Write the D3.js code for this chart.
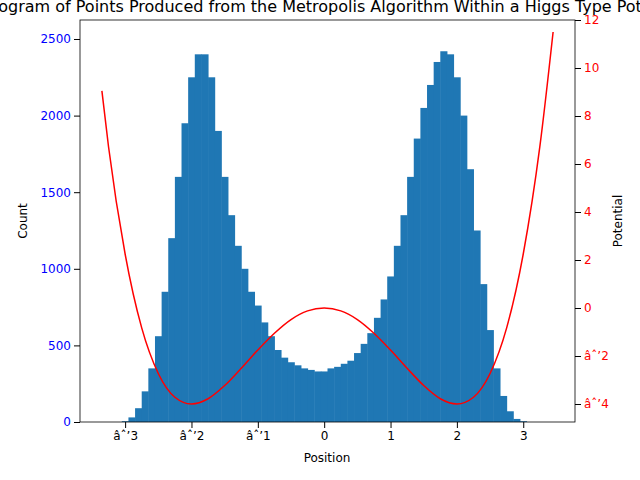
<!DOCTYPE html><html><head><script src="https://d3js.org/d3.v7.min.js"></script>
<style>body{margin:0}text{font-family:"DejaVu Sans",sans-serif}</style></head><body><svg width="640" height="480"></svg><script>
const binStart=-3.05, binWidth=0.1;
const counts=[5,30,90,200,350,560,850,1200,1600,1950,2250,2400,2400,2250,1900,1600,1350,1150,1000,850,760,650,560,470,420,390,370,350,340,330,330,350,360,380,400,450,510,580,680,800,950,1150,1350,1600,1850,2050,2200,2350,2420,2400,2250,2000,1650,1250,900,600,350,170,70,20,5];
const potX=[-3.35,-3.25,-3,-2.75,-2.5,-2.25,-2,-1.75,-1.5,-1.25,-1,-0.75,-0.5,-0.25,0,0.25,0.5,0.75,1,1.25,1.5,1.75,2,2.25,2.5,2.75,3,3.25,3.45];
const potY=[9.05,6.72,2.25,-0.83,-2.73,-3.72,-4,-3.78,-3.23,-2.51,-1.75,-1.05,-0.48,-0.12,0,-0.12,-0.48,-1.05,-1.75,-2.51,-3.23,-3.78,-4,-3.72,-2.73,-0.83,2.25,6.72,11.5];
const xTicks=[-3,-2,-1,0,1,2,3], yTicks=[0,500,1000,1500,2000,2500], y2Ticks=[-4,-2,0,2,4,6,8,10,12];
const svg=d3.select("svg"), L=80,R=575,T=20,B=422;
const x=d3.scaleLinear([-3.68,3.78],[L,R]);
const y=d3.scaleLinear([0,2624],[B,T]);
const y2=d3.scaleLinear([-4.75,12],[B,T]);
const fmt=d=>d<0?"−"+(-d):String(d);
svg.append("g").selectAll("rect").data(counts).join("rect")
 .attr("x",(d,i)=>x(binStart+i*binWidth)).attr("width",x(binWidth)-x(0)+0.5)
 .attr("y",d=>y(d)).attr("height",d=>B-y(d)).attr("fill","#1f77b4");
svg.append("path").datum(potX.map((v,i)=>[v,potY[i]])).attr("fill","none").attr("stroke","red").attr("stroke-width",1.5)
 .attr("d",d3.line(d=>x(d[0]),d=>y2(d[1])).curve(d3.curveMonotoneX));
svg.append("rect").attr("x",L).attr("y",T).attr("width",R-L).attr("height",B-T).attr("fill","none").attr("stroke","black").attr("stroke-width",0.8);
const ax=svg.append("g").attr("transform",`translate(0,${B})`).call(d3.axisBottom(x).tickValues(xTicks).tickFormat(fmt).tickSizeOuter(0));
const ay=svg.append("g").attr("transform",`translate(${L},0)`).call(d3.axisLeft(y).tickValues(yTicks).tickFormat(fmt).tickSizeOuter(0));
const ay2=svg.append("g").attr("transform",`translate(${R},0)`).call(d3.axisRight(y2).tickValues(y2Ticks).tickFormat(fmt).tickSizeOuter(0));
[ax,ay,ay2].forEach(a=>{a.select(".domain").remove();a.selectAll("text").attr("font-size",12).attr("font-family","DejaVu Sans");});
ay.selectAll("text").attr("fill","blue");ay2.selectAll("text").attr("fill","red");
svg.append("text").attr("x",327).attr("y",12).attr("text-anchor","middle").attr("font-size",16).text("Histogram of Points Produced from the Metropolis Algorithm Within a Higgs Type Potential");
svg.append("text").attr("x",327).attr("y",462).attr("text-anchor","middle").attr("font-size",12).text("Position");
svg.append("text").attr("transform","translate(27,221) rotate(-90)").attr("text-anchor","middle").attr("font-size",12).text("Count");
svg.append("text").attr("transform","translate(622,221) rotate(-90)").attr("text-anchor","middle").attr("font-size",12).text("Potential");
</script></body></html>
